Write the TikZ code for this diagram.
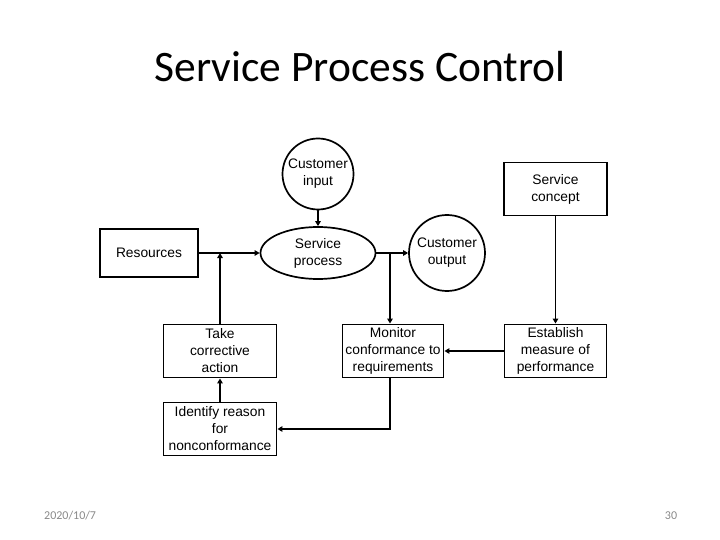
\documentclass[tikz,border=0pt]{standalone}
\usepackage{fontspec}
\setmainfont{Liberation Sans}
\newfontfamily\titlefont{Carlito}
\usetikzlibrary{shapes.geometric,arrows.meta}
\definecolor{footgray}{HTML}{898989}
\tikzset{
  every node/.style={font=\fontsize{13.8}{17}\selectfont, align=center, inner sep=0pt},
  boxnode/.style={draw, line width=1.9pt, rectangle, minimum width=#1, minimum height=53pt},
  circnode/.style={draw, line width=1.7pt, circle, minimum size=#1},
  ellnode/.style={draw, line width=1.7pt, ellipse, minimum width=115pt, minimum height=52pt},
  conn/.style={line width=1.9pt},
  arr/.style={conn, -{Triangle[length=5pt,width=5.5pt]}}
}
\begin{document}
\begin{tikzpicture}[x=1pt,y=-1pt]
\useasboundingbox (0,0) rectangle (720,540);
\node[font=\titlefont\fontsize{43.5}{48}\selectfont] (title) at (360,67) {Service Process Control};

\node[circnode=71pt] (cin) at (318,174) {Customer\\input};
\node[ellnode] (sproc) at (318,253) {Service\\process};
\node[boxnode=98pt, minimum height=48pt] (res) at (149,253) {Resources};
\node[circnode=76pt] (cout) at (447,253) {Customer\\output};
\node[boxnode=103pt] (scon) at (555.5,189) {Service\\concept};
\node[boxnode=113pt] (take) at (220,351) {Take\\corrective\\action};
\node[boxnode=101pt] (mon) at (393,351) {Monitor\\conformance to\\requirements};
\node[boxnode=102pt] (est) at (555.5,351) {Establish\\measure of\\performance};
\node[boxnode=113pt] (iden) at (220,429) {Identify reason\\for\\nonconformance};

\coordinate (j1) at (take.north |- res.east);
\coordinate (j2) at (390,253);

\draw[arr] (cin.south) -- (sproc.north);
\draw[arr] (res.east) -- (sproc.west);
\draw[arr] (take.north) -- (j1);
\draw[arr] (sproc.east) -- (cout.west);
\draw[arr] (j2) -- (j2 |- mon.north);
\draw[arr] (scon.south) -- (est.north);
\draw[arr] (est.west) -- (mon.east);
\draw[arr] (j2 |- mon.south) |- (iden.east);
\draw[arr] (iden.north) -- (take.south);

\node[font=\titlefont\fontsize{12}{14}\selectfont, text=footgray, anchor=west] (date) at (44,516) {2020/10/7};
\node[font=\titlefont\fontsize{12}{14}\selectfont, text=footgray] (pnum) at (671,516) {30};
\end{tikzpicture}
\end{document}
